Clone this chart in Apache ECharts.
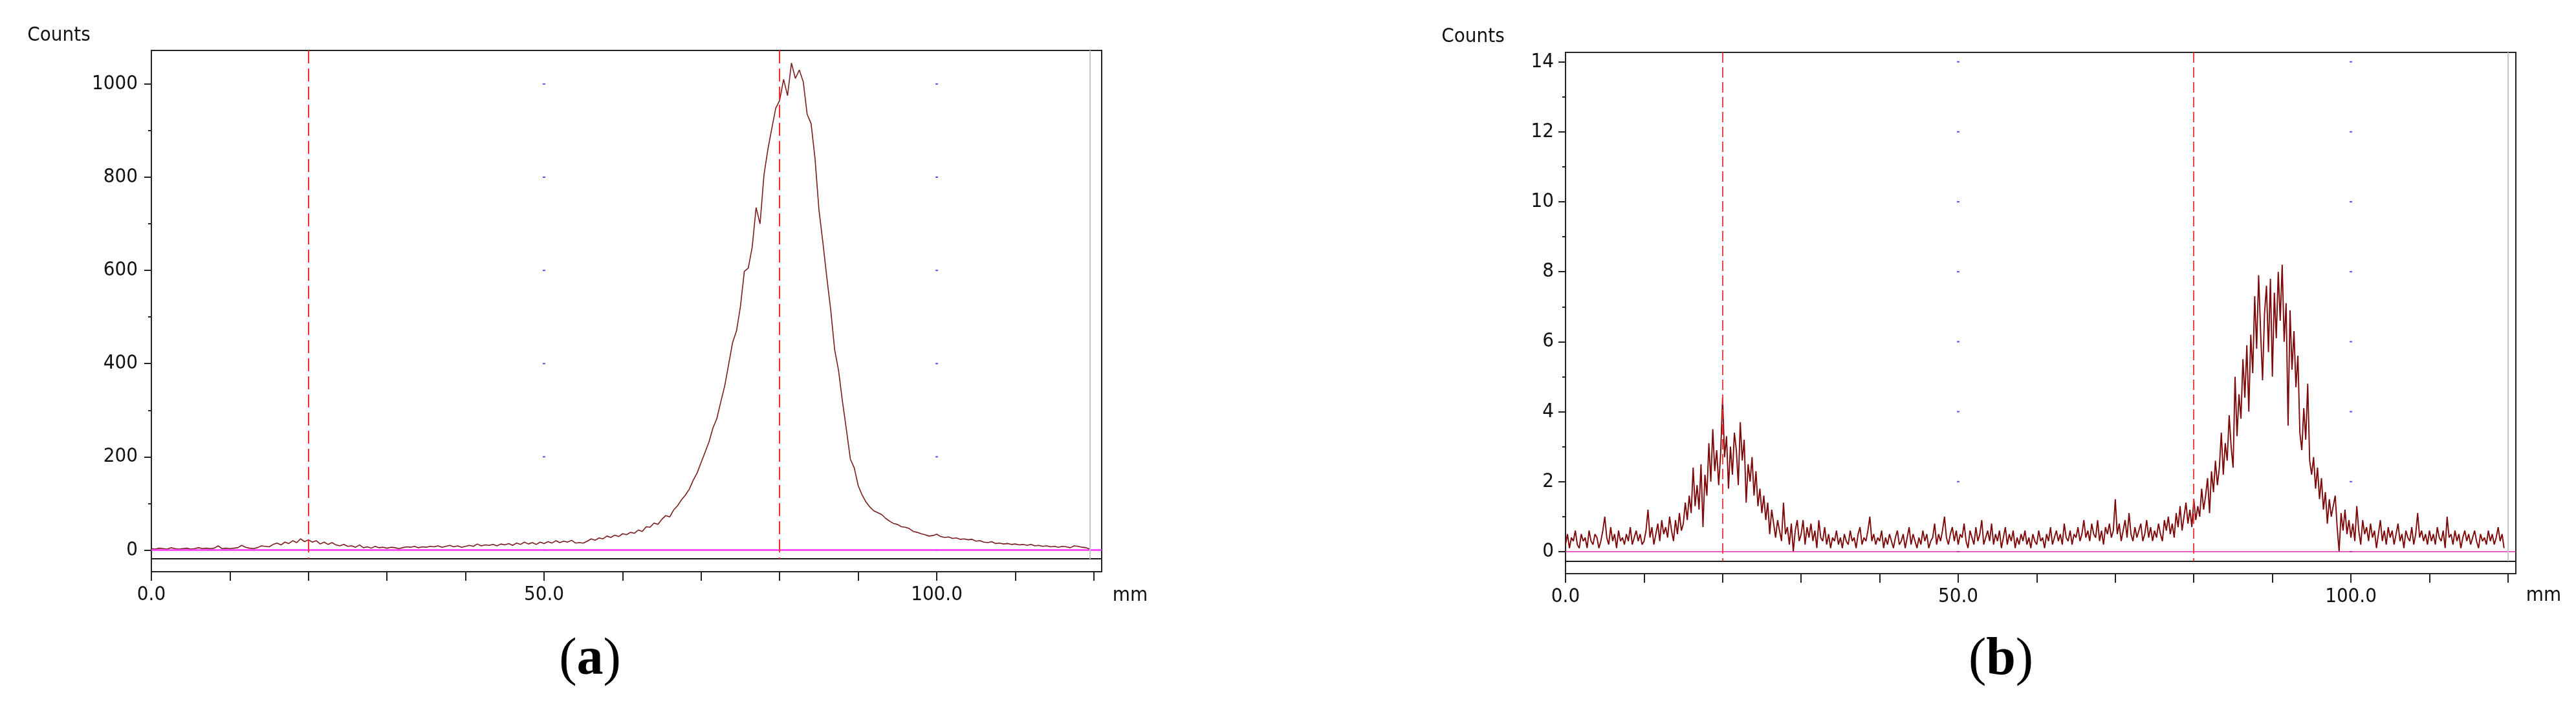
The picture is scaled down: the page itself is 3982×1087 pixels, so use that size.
<!DOCTYPE html>
<html>
<head>
<meta charset="utf-8">
<title>Counts profiles (a) (b)</title>
<script src="https://cdn.jsdelivr.net/npm/echarts@6.0.0/dist/echarts.min.js"></script>
<style>
  html, body { margin: 0; padding: 0; background: #fff; }
  #chart { width: 3982px; height: 1087px; }
</style>
</head>
<body>
<div id="chart"></div>
<script>
// profile (a): counts, one value every 0.5 mm from 0.0
var stepA = 0.5;
var countsA = [
  3, 2, 4, 3, 2, 5, 3, 2, 3, 4, 2, 3, 5, 3, 4, 3, 4, 9, 3, 4,
  3, 4, 5, 10, 6, 4, 3, 5, 9, 8, 7, 12, 15, 11, 17, 14, 20, 16, 24, 18,
  22, 17, 20, 13, 17, 12, 16, 11, 9, 12, 8, 9, 6, 11, 5, 7, 4, 8, 5, 6,
  4, 6, 5, 3, 5, 7, 6, 8, 5, 7, 6, 8, 7, 9, 6, 8, 10, 7, 9, 6,
  8, 10, 8, 13, 9, 11, 10, 12, 9, 13, 11, 14, 10, 15, 12, 17, 13, 16, 12, 17,
  14, 18, 15, 20, 16, 19, 17, 21, 15, 16, 15, 19, 24, 21, 26, 24, 30, 27, 32, 29,
  35, 33, 38, 36, 43, 40, 50, 49, 58, 55, 66, 74, 71, 86, 95, 108, 118, 131, 150, 166,
  188, 210, 232, 262, 282, 318, 352, 398, 445, 470, 522, 598, 605, 650, 735, 700, 805, 860, 905, 948,
  965, 1010, 975, 1045, 1012, 1030, 1005, 935, 915, 840, 730, 660, 585, 515, 430, 385, 318, 258, 195, 176,
  138, 118, 103, 92, 84, 80, 76, 68, 62, 57, 55, 50, 49, 46, 40, 38, 35, 33, 30, 31,
  34, 29, 27, 28, 25, 26, 23, 24, 22, 23, 19, 20, 17, 16, 18, 14, 15, 13, 14, 12,
  13, 11, 12, 10, 12, 9, 10, 8, 9, 7, 8, 6, 8, 7, 5, 9, 8, 6, 5, 2
];

// profile (b): counts, one value every 0.25 mm from 0.0
var stepB = 0.25;
var countsB = [
  0.2, 0.5, 0.1, 0.4, 0.3, 0.6, 0.2, 0.1, 0.5, 0.3, 0.4, 0.1, 0.6, 0.3, 0.2, 0.5, 0.4, 0.1, 0.3, 0.6,
  1.0, 0.4, 0.2, 0.7, 0.3, 0.5, 0.1, 0.6, 0.3, 0.4, 0.2, 0.5, 0.3, 0.7, 0.2, 0.4, 0.6, 0.3, 0.5, 0.2,
  0.3, 0.6, 1.2, 0.4, 0.7, 0.2, 0.5, 0.8, 0.3, 0.9, 0.5, 0.7, 0.4, 1.0, 0.6, 0.3, 0.9, 0.5, 1.1, 0.6,
  0.8, 1.4, 0.9, 1.6, 1.1, 2.4, 1.3, 1.9, 1.2, 2.5, 0.7, 2.2, 1.6, 3.1, 2.0, 3.5, 2.3, 2.9, 1.9, 2.8,
  4.4, 2.7, 3.3, 1.8, 3.0, 2.2, 3.4, 2.9, 1.9, 3.7, 2.6, 3.2, 1.4, 2.5, 2.0, 2.7, 1.6, 2.3, 1.3, 1.8,
  1.1, 1.6, 0.9, 1.4, 0.5, 1.2, 0.8, 0.4, 0.9, 0.6, 0.3, 1.4, 0.5, 0.7, 0.2, 0.8, 0.0, 0.6, 0.9, 0.3,
  0.5, 0.9, 0.2, 0.7, 0.4, 0.8, 0.3, 0.6, 0.1, 0.9, 0.4, 0.3, 0.7, 0.2, 0.5, 0.1, 0.4, 0.3, 0.6, 0.2,
  0.4, 0.1, 0.5, 0.3, 0.2, 0.6, 0.3, 0.4, 0.1, 0.5, 0.7, 0.2, 0.4, 0.3, 0.6, 1.0, 0.3, 0.5, 0.2, 0.4,
  0.3, 0.6, 0.1, 0.4, 0.2, 0.5, 0.3, 0.1, 0.4, 0.6, 0.2, 0.3, 0.5, 0.1, 0.4, 0.7, 0.2, 0.5, 0.3, 0.1,
  0.4, 0.2, 0.6, 0.3, 0.5, 0.1, 0.3, 0.4, 0.8, 0.2, 0.5, 0.3, 0.6, 1.0, 0.4, 0.2, 0.5, 0.7, 0.3, 0.6,
  0.2, 0.5, 0.4, 0.8, 0.3, 0.1, 0.6, 0.4, 0.2, 0.7, 0.3, 0.5, 0.9, 0.2, 0.4, 0.6, 0.3, 0.8, 0.2, 0.5,
  0.3, 0.6, 0.1, 0.4, 0.7, 0.2, 0.5, 0.3, 0.6, 0.1, 0.4, 0.2, 0.5, 0.3, 0.6, 0.2, 0.4, 0.1, 0.5, 0.3,
  0.2, 0.6, 0.3, 0.4, 0.1, 0.5, 0.3, 0.7, 0.2, 0.4, 0.6, 0.3, 0.5, 0.2, 0.8, 0.4, 0.3, 0.6, 0.2, 0.5,
  0.4, 0.7, 0.3, 0.5, 0.9, 0.4, 0.6, 0.3, 0.8, 0.5, 0.4, 0.9, 0.3, 0.6, 0.2, 0.7, 0.5, 0.8, 0.4, 0.6,
  1.5, 0.5, 0.8, 0.3, 0.6, 0.9, 0.4, 1.1, 0.5, 0.3, 0.7, 0.4, 0.6, 0.8, 0.3, 0.5, 0.9, 0.4, 0.7, 0.3,
  0.6, 0.4, 0.8, 0.5, 0.3, 0.9, 0.6, 1.0, 0.5, 0.8, 0.4, 1.1, 0.7, 1.3, 0.6, 1.0, 1.4, 0.8, 1.2, 0.7,
  1.5, 0.9, 1.3, 1.0, 1.8, 1.2, 1.6, 2.1, 1.1, 2.3, 1.7, 2.6, 1.9, 2.4, 3.4, 2.2, 3.1, 2.6, 3.9, 3.0,
  2.4, 5.0, 3.3, 4.5, 3.8, 5.5, 4.4, 5.9, 4.0, 6.2, 5.1, 7.3, 5.8, 7.9, 6.3, 4.9, 6.8, 7.6, 5.7, 7.8,
  5.0, 7.4, 6.1, 8.0, 6.6, 8.2, 6.0, 7.1, 3.6, 6.9, 5.2, 6.3, 4.7, 5.6, 3.4, 2.9, 4.1, 3.2, 4.8, 2.6,
  2.2, 2.7, 1.8, 2.4, 1.5, 2.1, 1.2, 1.7, 0.8, 1.5, 1.0, 1.3, 1.6, 0.7, 0.0, 1.1, 0.6, 1.2, 0.5, 0.9,
  0.4, 0.8, 0.3, 1.3, 0.6, 0.2, 0.9, 0.5, 0.7, 0.3, 0.8, 0.4, 0.6, 0.1, 0.5, 0.9, 0.3, 0.6, 0.2, 0.7,
  0.4, 0.6, 0.2, 0.5, 0.8, 0.3, 0.5, 0.1, 0.6, 0.4, 0.3, 0.7, 0.2, 0.5, 1.1, 0.4, 0.6, 0.3, 0.5, 0.2,
  0.6, 0.3, 0.5, 0.2, 0.7, 0.4, 0.3, 0.6, 0.1, 1.0, 0.4, 0.5, 0.2, 0.6, 0.3, 0.5, 0.1, 0.4, 0.6, 0.3,
  0.5, 0.2, 0.4, 0.6, 0.3, 0.1, 0.5, 0.3, 0.4, 0.2, 0.6, 0.3, 0.5, 0.2, 0.4, 0.7, 0.3, 0.5, 0.1
];

// axis ticks / labels
var xTicks = [0, 10, 20, 30, 40, 50, 60, 70, 80, 90, 100, 110, 120];
var xLabels = [0, 50, 100];
var yMajorA = [0, 200, 400, 600, 800, 1000];
var yMinorA = [100, 300, 500, 700, 900];
var yMajorB = [0, 2, 4, 6, 8, 10, 12, 14];
var yMinorB = [1, 3, 5, 7, 9, 11, 13];

// markers
var cursorX = [20, 80];      // red dashed cursors
var endXA = 119.5;           // grey end line (a)
var endXB = 120;             // grey end line (b)
var dotX = [50, 100];        // blue grid dots
var lowerLineA = -19;        // black reference line (a)
var lowerLineB = -0.27;      // black reference line (b)

var FONT = "'DejaVu Sans Condensed', 'DejaVu Sans', sans-serif";
var rangeA = { min: -46.5, max: 1072 };
var rangeB = { min: -0.63, max: 14.27 };

function toPairs(values, step) {
  return values.map(function (v, i) { return [i * step, v]; });
}

function gridDots(ys) {
  var out = [];
  dotX.forEach(function (x) {
    ys.forEach(function (y) { out.push([x, y]); });
  });
  return out;
}

function makeX(gi) {
  return {
    type: 'value', gridIndex: gi, min: 0, max: 121,
    axisLine: { show: true, onZero: false, lineStyle: { color: '#222', width: 2 } },
    axisTick: { show: true, customValues: xTicks, length: 14, lineStyle: { color: '#222', width: 2 } },
    axisLabel: {
      customValues: xLabels, margin: 20, color: '#111', fontSize: 31, fontFamily: FONT,
      formatter: function (v) { return v.toFixed(1); }
    },
    splitLine: { show: false }
  };
}

function makeY(gi, range, major, margin) {
  return {
    type: 'value', gridIndex: gi, position: 'left', min: range.min, max: range.max,
    axisLine: { show: true, onZero: false, lineStyle: { color: '#222', width: 2 } },
    axisTick: { show: true, customValues: major, length: 11, lineStyle: { color: '#222', width: 2 } },
    axisLabel: {
      customValues: major, margin: margin, color: '#111', fontSize: 31, fontFamily: FONT,
      formatter: function (v) { return String(v); }
    },
    splitLine: { show: false }
  };
}

function makeYMinor(gi, range, minor) {
  return {
    type: 'value', gridIndex: gi, position: 'left', min: range.min, max: range.max,
    axisLine: { show: false, onZero: false },
    axisTick: { show: true, customValues: minor, length: 5, lineStyle: { color: '#222', width: 2 } },
    axisLabel: { show: false },
    splitLine: { show: false }
  };
}

function markers(range, lower, endX, o) {
  var data = [
    { yAxis: 0, lineStyle: { color: o.zeroColor, width: o.zeroWidth, type: 'solid' } },
    { yAxis: lower, lineStyle: { color: '#1a1a1a', width: 2, type: 'solid' } },
    [{ coord: [endX, range.max], lineStyle: { color: '#c8c8c8', width: 2, type: 'solid' } },
     { coord: [endX, lower] }]
  ];
  cursorX.forEach(function (x) {
    data.push([
      { coord: [x, range.max], lineStyle: { color: o.cursorColor, width: o.cursorWidth, type: o.dash } },
      { coord: [x, lower] }
    ]);
  });
  return {
    symbol: ['none', 'none'], silent: true, animation: false,
    label: { show: false }, emphasis: { disabled: true },
    data: data
  };
}

var myChart = echarts.init(document.getElementById('chart'));
var option = {
  backgroundColor: '#fff',
  animation: false,
  grid: [
    { left: 234, top: 78, width: 1469, height: 806, show: true, borderColor: '#222', borderWidth: 2, outerBoundsMode: 'none' },
    { left: 2420, top: 81, width: 1469, height: 806, show: true, borderColor: '#222', borderWidth: 2, outerBoundsMode: 'none' }
  ],
  xAxis: [makeX(0), makeX(1)],
  yAxis: [
    makeY(0, rangeA, yMajorA, 21),
    makeYMinor(0, rangeA, yMinorA),
    makeY(1, rangeB, yMajorB, 18),
    makeYMinor(1, rangeB, yMinorB)
  ],
  series: [
    {
      type: 'scatter', xAxisIndex: 0, yAxisIndex: 0, data: gridDots(yMajorA),
      symbol: 'rect', symbolSize: [4, 2], itemStyle: { color: '#2a2aff' }, silent: true, z: 1
    },
    {
      type: 'line', xAxisIndex: 0, yAxisIndex: 0, data: toPairs(countsA, stepA),
      symbol: 'none', showSymbol: false, sampling: null, z: 3,
      lineStyle: { color: '#7a1c1c', width: 1.6 },
      markLine: markers(rangeA, lowerLineA, endXA, {
        zeroColor: '#ff33ff', zeroWidth: 2.5, cursorColor: '#ff2a2a', cursorWidth: 2, dash: [20, 8]
      })
    },
    {
      type: 'scatter', xAxisIndex: 1, yAxisIndex: 2, data: gridDots(yMajorB),
      symbol: 'rect', symbolSize: [4, 2], itemStyle: { color: '#2a2aff' }, silent: true, z: 1
    },
    {
      type: 'line', xAxisIndex: 1, yAxisIndex: 2, data: toPairs(countsB, stepB),
      symbol: 'none', showSymbol: false, sampling: null, z: 3,
      lineStyle: { color: '#7d0a0a', width: 1.9 },
      markLine: markers(rangeB, lowerLineB, endXB, {
        zeroColor: '#dd2aa8', zeroWidth: 1.6, cursorColor: '#e83030', cursorWidth: 1.8, dash: [16, 7]
      })
    }
  ],
  graphic: [
    { type: 'text', x: 91, y: 55, style: { text: 'Counts', font: '31px ' + FONT, fill: '#111', textAlign: 'center', textVerticalAlign: 'middle' } },
    { type: 'text', x: 2277, y: 57, style: { text: 'Counts', font: '31px ' + FONT, fill: '#111', textAlign: 'center', textVerticalAlign: 'middle' } },
    { type: 'text', x: 1747, y: 921, style: { text: 'mm', font: '31px ' + FONT, fill: '#111', textAlign: 'center', textVerticalAlign: 'middle' } },
    { type: 'text', x: 3932, y: 921, style: { text: 'mm', font: '31px ' + FONT, fill: '#111', textAlign: 'center', textVerticalAlign: 'middle' } },
    {
      type: 'text', x: 912, y: 1021,
      style: {
        text: '{p|(}{b|a}{p|)}', fill: '#000', textAlign: 'center', textVerticalAlign: 'middle',
        rich: {
          p: { fontSize: 82, fontFamily: "'Liberation Serif', serif", fill: '#000' },
          b: { fontSize: 82, fontFamily: "'Liberation Serif', serif", fontWeight: 'bold', fill: '#000' }
        }
      }
    },
    {
      type: 'text', x: 3093, y: 1021,
      style: {
        text: '{p|(}{b|b}{p|)}', fill: '#000', textAlign: 'center', textVerticalAlign: 'middle',
        rich: {
          p: { fontSize: 82, fontFamily: "'Liberation Serif', serif", fill: '#000' },
          b: { fontSize: 82, fontFamily: "'Liberation Serif', serif", fontWeight: 'bold', fill: '#000' }
        }
      }
    }
  ]
};
option && myChart.setOption(option);
</script>
</body>
</html>
